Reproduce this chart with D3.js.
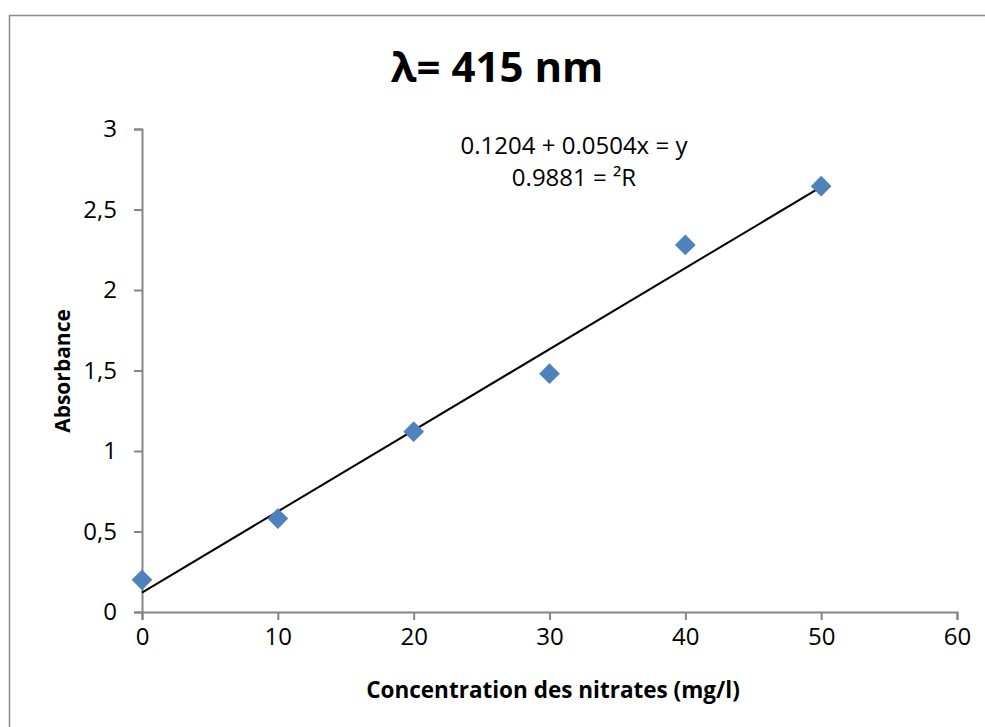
<!DOCTYPE html>
<html>
<head>
<meta charset="utf-8">
<script src="https://cdn.jsdelivr.net/npm/d3@7"></script>
<style>
  body { margin: 0; background: #fff; }
  text { font-family: "Open Sans", sans-serif; fill: #000; }
</style>
</head>
<body>
<svg id="chart" width="985" height="727"></svg>
<script>
// data
let concentration = [0, 10, 20, 30, 40, 50];
let absorbance = [0.20, 0.58, 1.12, 1.48, 2.28, 2.645];
let xTicks = [0, 10, 20, 30, 40, 50, 60];
let yTicks = [0, 0.5, 1, 1.5, 2, 2.5, 3];
let intercept = 0.1204;
let slope = 0.0504;
let equationLines = ["0.1204 + 0.0504x = y", "0.9881 = ²R"];

let svg = d3.select("svg#chart");
let margin = { top: 129, left: 142 };
let chartWidth = 957 - 142;
let chartHeight = 612 - 129;

// outer frame (only top and left edges are visible)
svg.append("rect")
    .attr("x", 9.5)
    .attr("y", 15.5)
    .attr("width", 1100)
    .attr("height", 1100)
    .attr("fill", "none")
    .attr("stroke", "#8c8c8c")
    .attr("stroke-width", 1.5);

const xScale = d3.scaleLinear().domain([0, 60]).range([0, chartWidth]);
const yScale = d3.scaleLinear().domain([0, 3]).range([chartHeight, 0]);

let bottomAxis = d3.axisBottom(xScale).tickValues(xTicks).tickSize(8).tickPadding(8);
let xg = svg.append("g")
    .attr("class", "x axis")
    .attr("transform", "translate(" + margin.left + "," + (margin.top + chartHeight) + ")")
    .call(bottomAxis);

let leftAxis = d3.axisLeft(yScale).tickValues(yTicks).tickSize(8).tickPadding(17)
    .tickFormat(d => String(d).replace(".", ","));
let yg = svg.append("g")
    .attr("class", "y axis")
    .attr("transform", "translate(" + margin.left + "," + margin.top + ")")
    .call(leftAxis);

[xg, yg].forEach(g => {
  g.select(".domain").attr("stroke", "#868686").attr("stroke-width", 2);
  g.selectAll(".tick line").attr("stroke", "#868686").attr("stroke-width", 2);
  g.selectAll(".tick text").attr("font-size", 24).attr("fill", "#000")
      .style("font-family", "'Open Sans', sans-serif");
});

let plot = svg.append("g")
    .attr("transform", "translate(" + margin.left + "," + margin.top + ")");

// linear trendline
let trend = d3.line().x(d => xScale(d)).y(d => yScale(intercept + slope * d));
plot.append("path")
    .datum([d3.min(concentration), d3.max(concentration)])
    .attr("d", trend)
    .attr("fill", "none")
    .attr("stroke", "#000")
    .attr("stroke-width", 2);

// diamond markers
let diamond = d3.symbol().type(d3.symbolSquare).size(215);
concentration.forEach((c, i) => {
  plot.append("path")
      .attr("d", diamond)
      .attr("transform", "translate(" + xScale(c) + "," + yScale(absorbance[i]) + ") rotate(45)")
      .attr("fill", "#4f81bd");
});

// title
svg.append("text")
    .attr("x", 497)
    .attr("y", 82)
    .attr("text-anchor", "middle")
    .attr("font-size", 42)
    .attr("font-weight", "bold")
    .text("λ= 415 nm");

// trendline equation
equationLines.forEach((t, i) => {
  svg.append("text")
      .attr("x", 574)
      .attr("y", 154 + i * 32)
      .attr("text-anchor", "middle")
      .attr("font-size", 24)
      .text(t);
});

// axis titles
svg.append("text")
    .attr("x", 553)
    .attr("y", 698)
    .attr("text-anchor", "middle")
    .attr("font-size", 22.5)
    .attr("font-weight", "bold")
    .text("Concentration des nitrates (mg/l)");

svg.append("text")
    .attr("transform", "translate(70,371) rotate(-90)")
    .attr("text-anchor", "middle")
    .attr("font-size", 21)
    .attr("font-weight", "bold")
    .text("Absorbance");
</script>
</body>
</html>
